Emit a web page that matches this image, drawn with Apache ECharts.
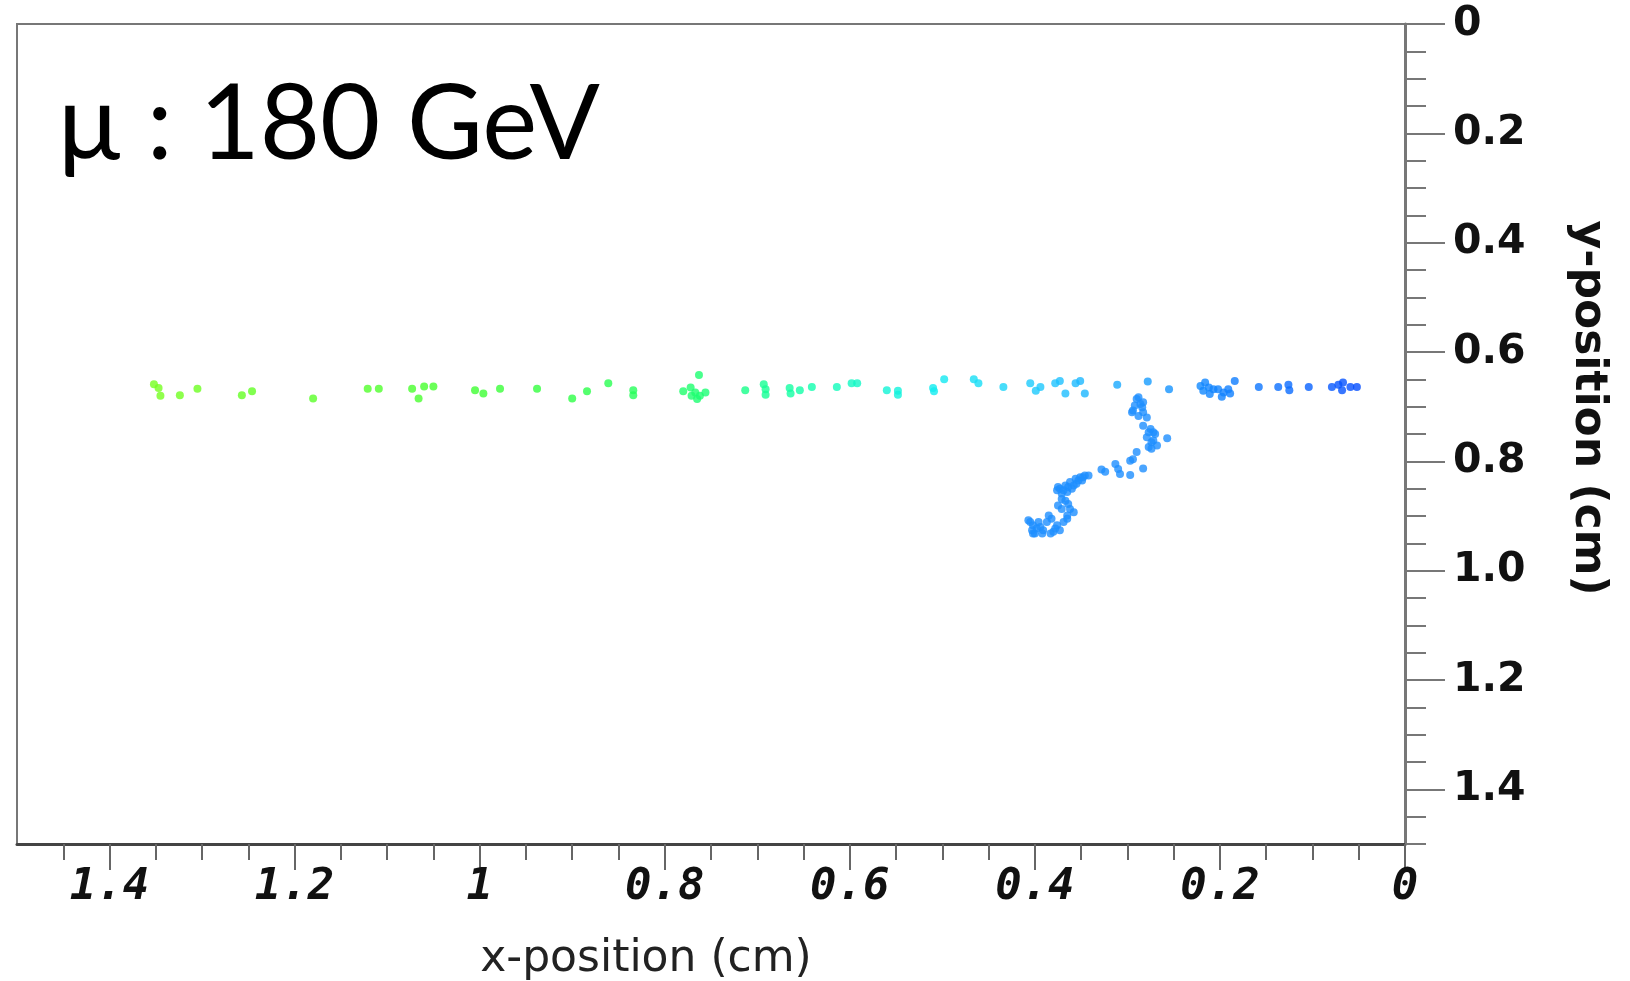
<!DOCTYPE html>
<html>
<head>
<meta charset="utf-8">
<script src="https://cdn.jsdelivr.net/npm/echarts@6/dist/echarts.min.js"></script>
<style>
  html, body { margin: 0; padding: 0; background: #fff; }
  #chart { width: 1630px; height: 981px; }
</style>
</head>
<body>
<div id="chart"></div>
<script>
// main muon track (x, y in cm)
const trackX = [1.352, 1.347, 1.345, 1.324, 1.305, 1.257, 1.246, 1.180, 1.121, 1.109,
  1.073, 1.060, 1.066, 1.050, 1.005, 0.996, 0.978, 0.938, 0.900, 0.884,
  0.861, 0.834, 0.834, 0.763, 0.780, 0.772, 0.767, 0.762, 0.756, 0.765,
  0.771, 0.713, 0.693, 0.691, 0.691, 0.665, 0.664, 0.654, 0.641, 0.614,
  0.598, 0.592, 0.560, 0.548, 0.548, 0.510, 0.509, 0.498, 0.466, 0.461,
  0.434, 0.405, 0.394, 0.399, 0.378, 0.373, 0.367, 0.356, 0.351, 0.346,
  0.311, 0.278, 0.255, 0.221, 0.216, 0.212, 0.218, 0.207, 0.211, 0.202,
  0.196, 0.191, 0.198, 0.189, 0.184, 0.158, 0.137, 0.126, 0.125, 0.104,
  0.079, 0.072, 0.067, 0.068, 0.059, 0.052];
const trackY = [0.659, 0.666, 0.680, 0.679, 0.667, 0.679, 0.672, 0.685, 0.667, 0.667,
  0.667, 0.663, 0.685, 0.663, 0.670, 0.676, 0.667, 0.667, 0.685, 0.672,
  0.657, 0.670, 0.679, 0.642, 0.672, 0.665, 0.674, 0.680, 0.674, 0.686,
  0.680, 0.670, 0.659, 0.668, 0.678, 0.666, 0.676, 0.670, 0.664, 0.664,
  0.657, 0.657, 0.670, 0.671, 0.678, 0.666, 0.672, 0.650, 0.650, 0.657,
  0.664, 0.657, 0.664, 0.671, 0.657, 0.653, 0.676, 0.657, 0.653, 0.676,
  0.660, 0.654, 0.668, 0.662, 0.656, 0.665, 0.671, 0.668, 0.677, 0.668,
  0.674, 0.668, 0.682, 0.676, 0.653, 0.664, 0.664, 0.660, 0.670, 0.664,
  0.664, 0.660, 0.656, 0.670, 0.664, 0.664];

// secondary (delta ray) branch
const deltaX = [0.288, 0.283, 0.290, 0.286, 0.294, 0.283, 0.288, 0.279, 0.284, 0.283,
  0.275, 0.270, 0.279, 0.274, 0.268, 0.277, 0.272, 0.257, 0.290, 0.294,
  0.297, 0.283, 0.313, 0.310, 0.308, 0.297, 0.328, 0.324, 0.346, 0.351,
  0.356, 0.362, 0.367, 0.373, 0.376, 0.365, 0.355, 0.349, 0.360, 0.371,
  0.364, 0.358, 0.365, 0.371, 0.375, 0.407, 0.402, 0.394, 0.387, 0.382,
  0.376, 0.380, 0.391, 0.400, 0.373, 0.385, 0.396, 0.403,
  0.375, 0.369, 0.364, 0.358, 0.353, 0.348, 0.342, 0.371, 0.367, 0.362,
  0.365, 0.369, 0.378, 0.383, 0.392, 0.398, 0.405, 0.402, 0.295, 0.292,
  0.277, 0.272, 0.274];
const deltaY = [0.683, 0.692, 0.686, 0.695, 0.707, 0.710, 0.717, 0.720, 0.701, 0.735,
  0.741, 0.750, 0.756, 0.765, 0.771, 0.774, 0.747, 0.758, 0.783, 0.796,
  0.799, 0.813, 0.805, 0.814, 0.823, 0.825, 0.815, 0.819, 0.826, 0.829,
  0.832, 0.838, 0.844, 0.850, 0.853, 0.856, 0.841, 0.835, 0.850, 0.869,
  0.878, 0.893, 0.899, 0.887, 0.881, 0.908, 0.917, 0.920, 0.911, 0.905,
  0.917, 0.929, 0.926, 0.932, 0.926, 0.899, 0.911, 0.926,
  0.847, 0.853, 0.847, 0.844, 0.835, 0.829, 0.826, 0.859, 0.872, 0.887,
  0.905, 0.911, 0.923, 0.932, 0.932, 0.923, 0.911, 0.932, 0.710, 0.698,
  0.747, 0.762, 0.777];

const xMajorTicks = [0, 0.2, 0.4, 0.6, 0.8, 1, 1.2, 1.4];
const xMinorTicks = [0.05, 0.1, 0.15, 0.25, 0.3, 0.35, 0.45, 0.5, 0.55, 0.65, 0.7, 0.75,
  0.85, 0.9, 0.95, 1.05, 1.1, 1.15, 1.25, 1.3, 1.35, 1.45];
const yMajorTicks = [0, 0.2, 0.4, 0.6, 0.8, 1.0, 1.2, 1.4];
const yMinorTicks = [0.05, 0.1, 0.15, 0.25, 0.3, 0.35, 0.45, 0.5, 0.55, 0.65, 0.7, 0.75,
  0.85, 0.9, 0.95, 1.05, 1.1, 1.15, 1.25, 1.3, 1.35, 1.45, 1.5];
const yTickLabels = ['0', '0.2', '0.4', '0.6', '0.8', '1.0', '1.2', '1.4'];

const chart = echarts.init(document.getElementById('chart'));

const zip = (xs, ys) => xs.map((x, i) => [x, ys[i]]);

const xBase = {
  type: 'value',
  min: 0,
  max: 1.5,
  inverse: true,
  position: 'bottom',
  splitLine: { show: false }
};
const yBase = {
  type: 'value',
  min: 0,
  max: 1.5,
  inverse: true,
  position: 'right',
  splitLine: { show: false }
};

chart.setOption({
  animation: false,
  backgroundColor: '#fff',
  grid: {
    left: 17, right: 225, top: 24, bottom: 137,
    containLabel: false,
    outerBoundsMode: 'none',
    show: true, borderColor: '#777', borderWidth: 2
  },
  graphic: [{
    type: 'text',
    left: 58,
    top: 73,
    style: {
      text: 'μ : 180 GeV',
      font: '104px Lato',
      fill: '#000'
    }
  }],
  xAxis: [
    Object.assign({}, xBase, {
      name: 'x-position (cm)',
      nameLocation: 'middle',
      nameGap: 94,
      nameTextStyle: { fontFamily: 'DejaVu Sans', fontSize: 44, color: '#222', padding: [0, 130, 0, 0] },
      axisLine: { onZero: false, lineStyle: { color: '#444', width: 3 } },
      axisTick: { length: 26, lineStyle: { color: '#666', width: 2 }, customValues: xMajorTicks },
      axisLabel: {
        customValues: xMajorTicks,
        margin: 22,
        fontFamily: 'DejaVu Sans Mono',
        fontStyle: 'italic',
        fontWeight: 'bold',
        fontSize: 44,
        color: '#111'
      }
    }),
    Object.assign({}, xBase, {
      axisLine: { show: false, onZero: false },
      axisTick: { length: 16, lineStyle: { color: '#666', width: 2 }, customValues: xMinorTicks },
      axisLabel: { show: false }
    })
  ],
  yAxis: [
    Object.assign({}, yBase, {
      name: 'y-position (cm)',
      nameLocation: 'middle',
      nameRotate: -90,
      nameGap: 160,
      nameTextStyle: { fontFamily: 'DejaVu Sans', fontWeight: 'bold', fontSize: 44, color: '#111', padding: [0, 52, 0, 0] },
      axisLine: { onZero: false, lineStyle: { color: '#777', width: 3 } },
      axisTick: { length: 40, lineStyle: { color: '#777', width: 2 }, customValues: yMajorTicks },
      axisLabel: {
        customValues: yMajorTicks,
        formatter: v => yTickLabels[yMajorTicks.indexOf(v)],
        margin: 48,
        fontFamily: 'DejaVu Sans',
        fontWeight: 'bold',
        fontSize: 41,
        color: '#111'
      }
    }),
    Object.assign({}, yBase, {
      axisLine: { show: false, onZero: false },
      axisTick: { length: 21, lineStyle: { color: '#777', width: 2 }, customValues: yMinorTicks },
      axisLabel: { show: false }
    })
  ],
  visualMap: {
    type: 'continuous',
    show: false,
    seriesIndex: 0,
    dimension: 0,
    min: 0,
    max: 1.4,
    inRange: {
      color: ['#0038ff', '#0a6cff', '#1593ff', '#1fc4ff', '#12ecf0', '#10ffb0',
        '#1cff70', '#2cff48', '#40ff30', '#55ff2a', '#66ff22', '#80ff20']
    }
  },
  series: [
    {
      name: 'track',
      type: 'scatter',
      xAxisIndex: 0,
      yAxisIndex: 0,
      symbolSize: 8,
      data: zip(trackX, trackY)
    },
    {
      name: 'delta',
      type: 'scatter',
      xAxisIndex: 0,
      yAxisIndex: 0,
      symbolSize: 8,
      itemStyle: { color: '#1e8fff' },
      data: zip(deltaX, deltaY)
    }
  ]
});
</script>
</body>
</html>
